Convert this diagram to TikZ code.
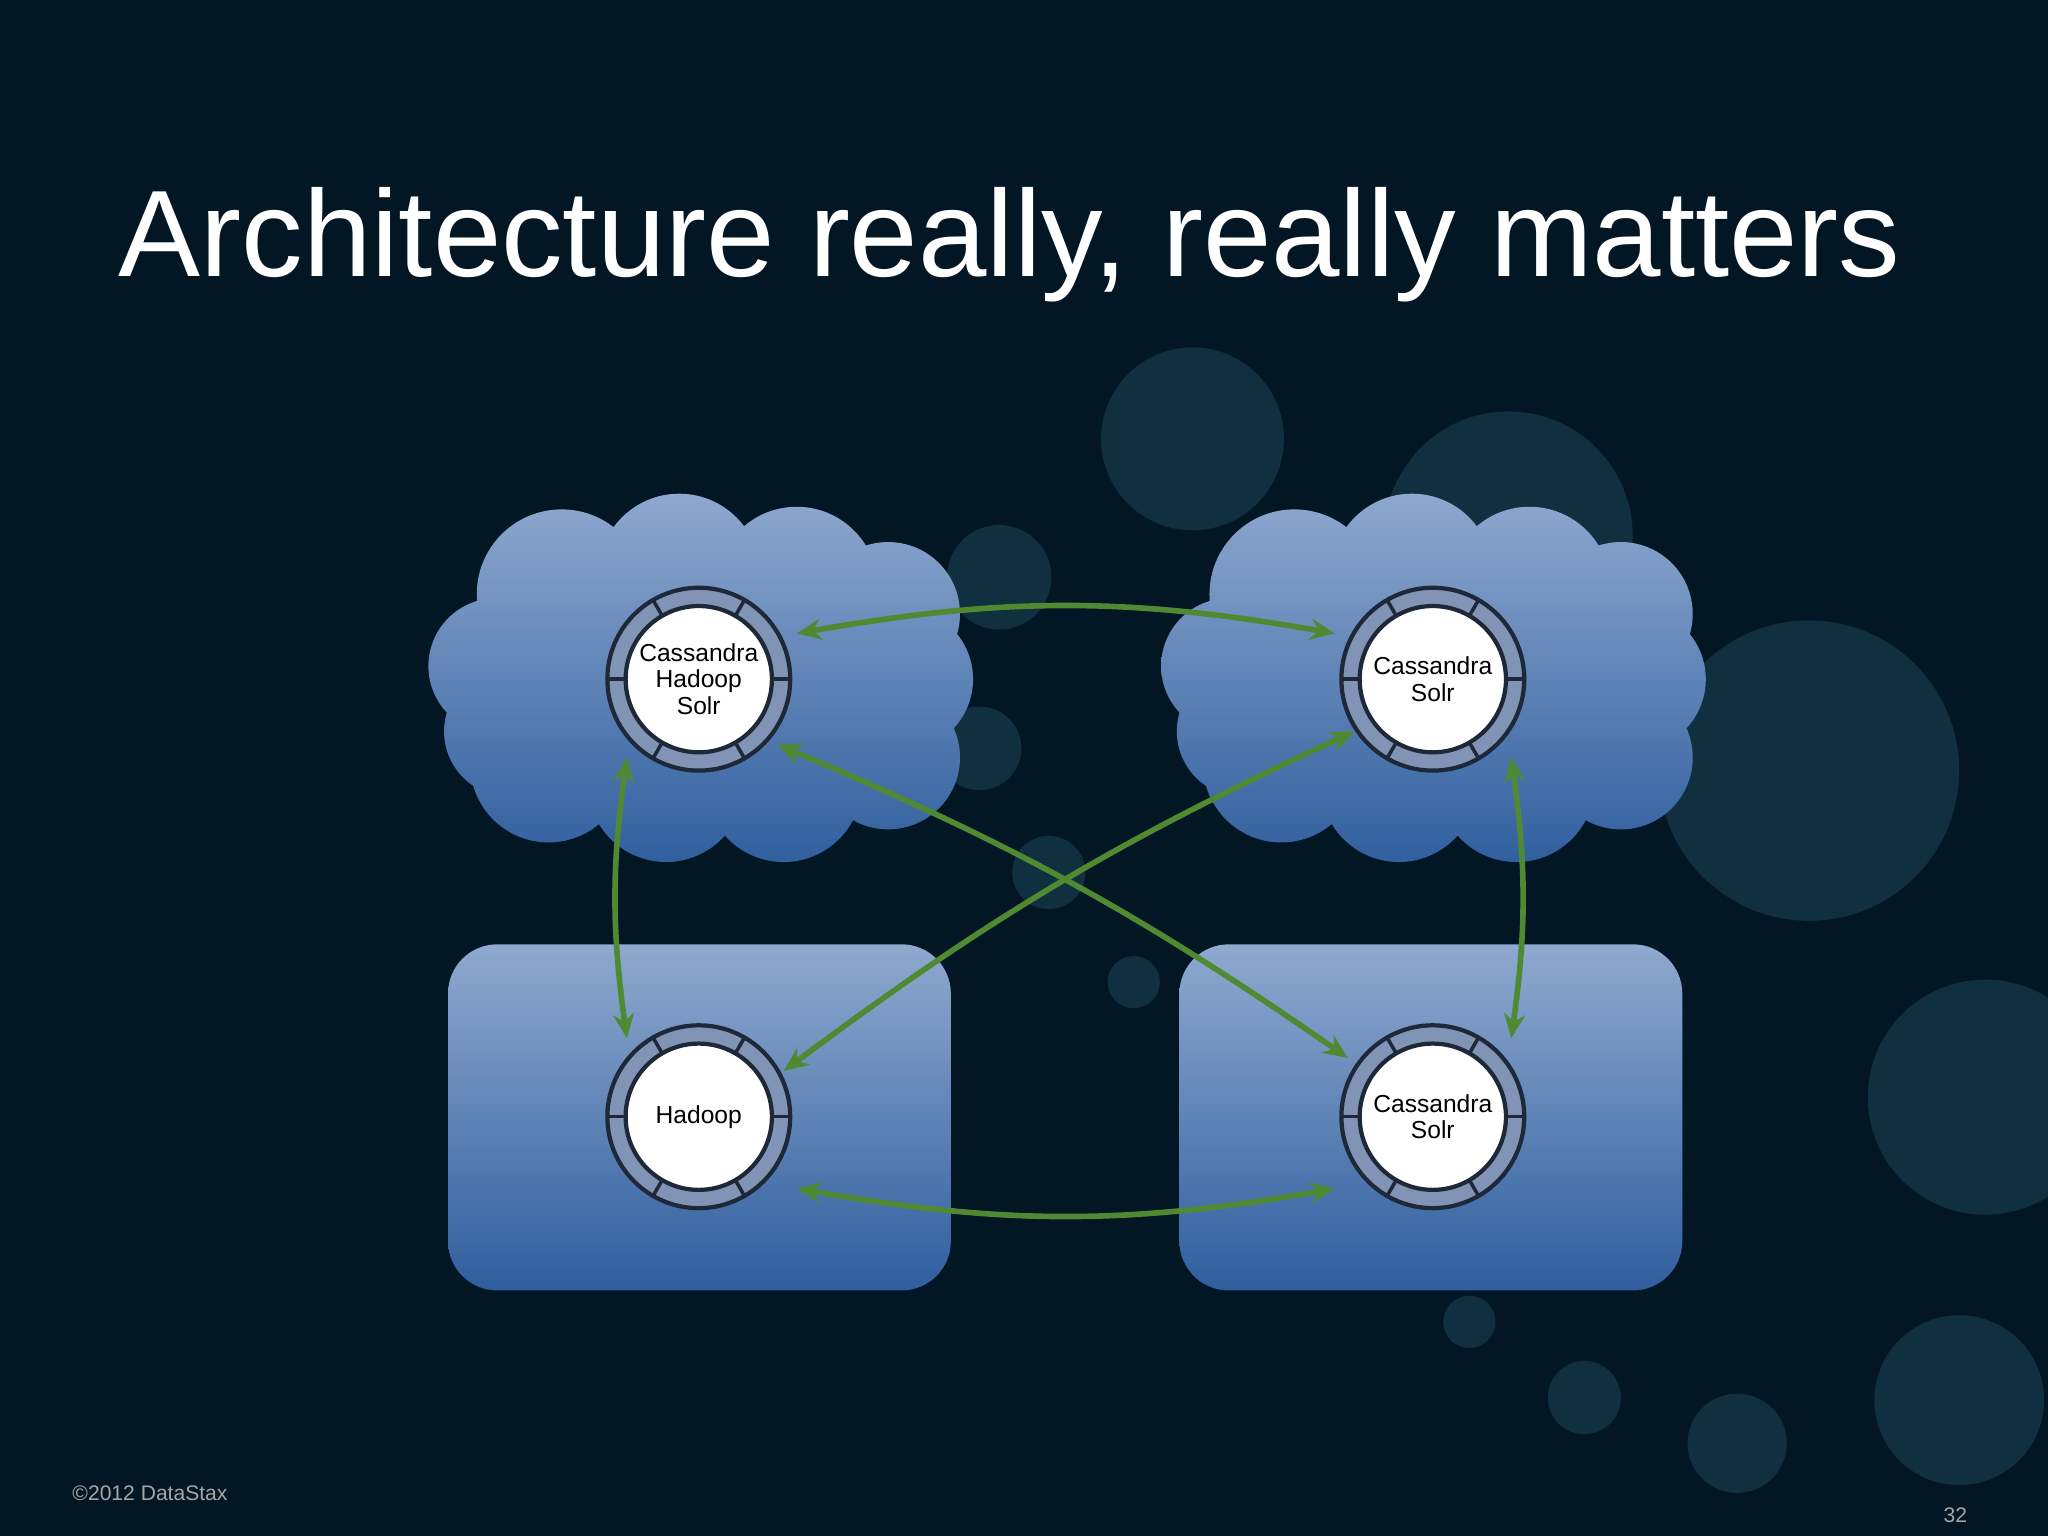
\documentclass[tikz,border=0pt]{standalone}
\usepackage{fontspec}
\setmainfont{Liberation Sans}
\usetikzlibrary{arrows.meta,calc}
\definecolor{bgnavy}{HTML}{021624}
\definecolor{bubble}{HTML}{11303F}
\definecolor{cloudtop}{HTML}{8FA9CF}
\definecolor{cloudbot}{HTML}{2F5E9E}
\definecolor{ringblue}{HTML}{8194B5}
\definecolor{ringline}{HTML}{1E2838}
\definecolor{linkgreen}{HTML}{4F8A33}

\begin{document}
\begin{tikzpicture}[x=0.013061cm,y=-0.013061cm]
    \tikzstyle{bubble}=[fill=bubble]
    \tikzstyle{zone}=[top color=cloudtop,bottom color=cloudbot]
    \tikzstyle{server}=[circle,minimum size=1.4cm,inner sep=0pt,align=center,
        font=\fontsize{7}{7.5}\selectfont,text=black]
    \tikzstyle{link}=[<->,>={Stealth[length=7pt,width=6pt]},draw=linkgreen,line width=1.6pt]

    % Background and decorative bubbles
    \useasboundingbox (0,0) rectangle (1568,1176);
    \clip (0,0) rectangle (1568,1176);
    \fill[bgnavy] (0,0) rectangle (1568,1176);
    \foreach \x/\y/\r in {913/336/70, 1155/410/95, 765/442/40, 750/573/32, 1385/590/115,
                          1520/840/90, 1500/1072/65, 1330/1105/38, 1213/1070/28,
                          1125/1012/20, 868/752/20, 803/668/28}
        \fill[bubble] (\x,\y) circle (\r);

    % Title and footer
    \node (title) at (773,187) {\fontsize{35}{40}\selectfont\color{white}Architecture really, really matters};
    \node[anchor=west,text=gray!70,font=\fontsize{6}{7}\selectfont] (copy) at (46,1143) {\textcopyright2012 DataStax};
    \node[text=gray!70,font=\fontsize{6}{7}\selectfont] (page) at (1497,1160) {32};

    % Clouds and data centres
    \foreach \dx in {0,561} {
        \begin{scope}[shift={(\dx,0)}]
            \clip (380,510) circle (52) (430,455) circle (65) (520,440) circle (62)
                (610,450) circle (62) (680,470) circle (55) (690,520) circle (55) (680,580) circle (55)
                (600,600) circle (60) (510,600) circle (60) (420,585) circle (60) (390,560) circle (50)
                (535,520) circle (120);
            \shade[zone] (320,375) rectangle (760,665);
        \end{scope}
    }
    \shade[zone,rounded corners=14pt] (343,723) rectangle (728,988);
    \shade[zone,rounded corners=14pt] (903,723) rectangle (1288,988);

    % Server rings
    \foreach \name/\x/\y/\txt in {tl/535/520/{Cassandra\\Hadoop\\Solr}, tr/1097/520/{Cassandra\\Solr},
                                  bl/535/855/{Hadoop}, br/1097/855/{Cassandra\\Solr}} {
        \filldraw[fill=ringblue,draw=ringline,line width=1.2pt] (\x,\y) circle (70);
        \foreach \a in {0,60,120,180,240,300}
            \draw[ringline,line width=1pt] ($(\x,\y)+(\a:56)$) -- ($(\x,\y)+(\a:70)$);
        \filldraw[fill=white,draw=ringline,line width=1.2pt] (\x,\y) circle (56);
        \node[server] (\name) at (\x,\y) {\txt};
    }

    % Replication links
    \coordinate (a1) at ($(tl)+(75,-35)$);  \coordinate (a2) at ($(tr)+(-75,-35)$);
    \coordinate (b1) at ($(bl)+(75,55)$);   \coordinate (b2) at ($(br)+(-75,55)$);
    \coordinate (c1) at ($(tl)+(-55,60)$);  \coordinate (c2) at ($(bl)+(-55,-60)$);
    \coordinate (d1) at ($(tr)+(60,60)$);   \coordinate (d2) at ($(br)+(60,-60)$);
    \coordinate (e1) at ($(tl)+(60,50)$);   \coordinate (e2) at ($(br)+(-65,-45)$);
    \coordinate (f1) at ($(tr)+(-60,40)$);  \coordinate (f2) at ($(bl)+(65,-35)$);
    \draw[link] (a1) to[bend left=10] (a2);
    \draw[link] (b1) to[bend right=10] (b2);
    \draw[link] (c1) to[bend right=8] (c2);
    \draw[link] (d1) to[bend left=8] (d2);
    \draw[link] (e1) to[bend left=6] (e2);
    \draw[link] (f1) to[bend right=6] (f2);
\end{tikzpicture}
\end{document}
